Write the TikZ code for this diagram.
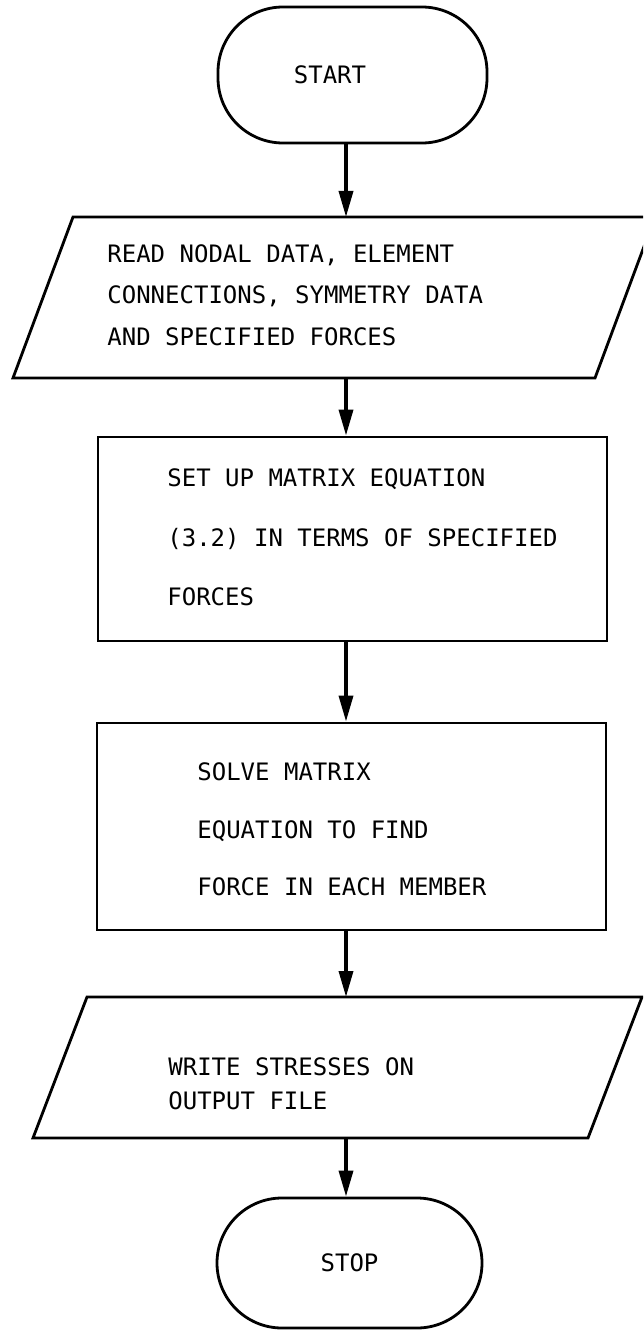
\documentclass[tikz,border=0pt]{standalone}
\usepackage{fontspec}
\setmonofont{DejaVu Sans Mono}
\usetikzlibrary{arrows.meta}

\begin{document}
\begin{tikzpicture}[
  box/.style={draw,line width=1.6pt},
  term/.style={box,rounded corners=1.3cm,font=\ttfamily\fontsize{13.66}{16}\selectfont},
  proc/.style={box,minimum width=10.18cm},
  txt/.style={anchor=west,align=left,inner sep=0pt,font=\ttfamily\fontsize{13.66}{#1}\selectfont},
  arr/.style={line width=2pt,-{Triangle[length=5.2mm,width=2.8mm]}}]
  \clip (0,0) rectangle (12.86,-26.62);
  \coordinate (ax) at (6.92,0);
  % terminals
  \node[term,minimum width=5.38cm,minimum height=2.72cm] (start) at (7.05,-1.5) {START\hspace*{0.9cm}};
  \node[term,minimum width=5.3cm,minimum height=2.6cm] (stop) at (6.99,-25.26) {STOP};
  % input / output
  \draw[box] (0.26,-7.56) -- (1.46,-4.34) -- (6.92,-4.34) coordinate (read-n) -- (13.1,-4.34)
    -- (11.9,-7.56) -- (6.92,-7.56) coordinate (read-s) -- cycle;
  \draw[box] (0.66,-22.76) -- (1.74,-19.94) -- (6.92,-19.94) coordinate (write-n) -- (12.84,-19.94)
    -- (11.76,-22.76) -- (6.92,-22.76) coordinate (write-s) -- cycle;
  % process boxes
  \node[proc,minimum height=4.08cm] (setup) at (7.05,-10.78) {};
  \node[proc,minimum height=4.14cm] (solve) at (7.03,-16.53) {};
  % texts
  \node[txt=23.5pt] (readtxt) at (2.14,-5.9) {READ NODAL DATA, ELEMENT\\CONNECTIONS, SYMMETRY DATA\\AND SPECIFIED FORCES};
  \node[txt=33.8pt] (setuptxt) at (3.34,-10.75) {SET UP MATRIX EQUATION\\(3.2) IN TERMS OF SPECIFIED\\FORCES};
  \node[txt=32.7pt] (solvetxt) at (3.94,-16.59) {SOLVE MATRIX\\EQUATION TO FIND\\FORCE IN EACH MEMBER};
  \node[txt=19.3pt] (writetxt) at (3.36,-21.68) {WRITE STRESSES ON\\OUTPUT FILE};
  % flow
  \draw[arr] (start.south -| ax) -- (read-n);
  \draw[arr] (read-s) -- (setup.north -| ax);
  \draw[arr] (setup.south -| ax) -- (solve.north -| ax);
  \draw[arr] (solve.south -| ax) -- (write-n);
  \draw[arr] (write-s) -- (stop.north -| ax);
\end{tikzpicture}
\end{document}
